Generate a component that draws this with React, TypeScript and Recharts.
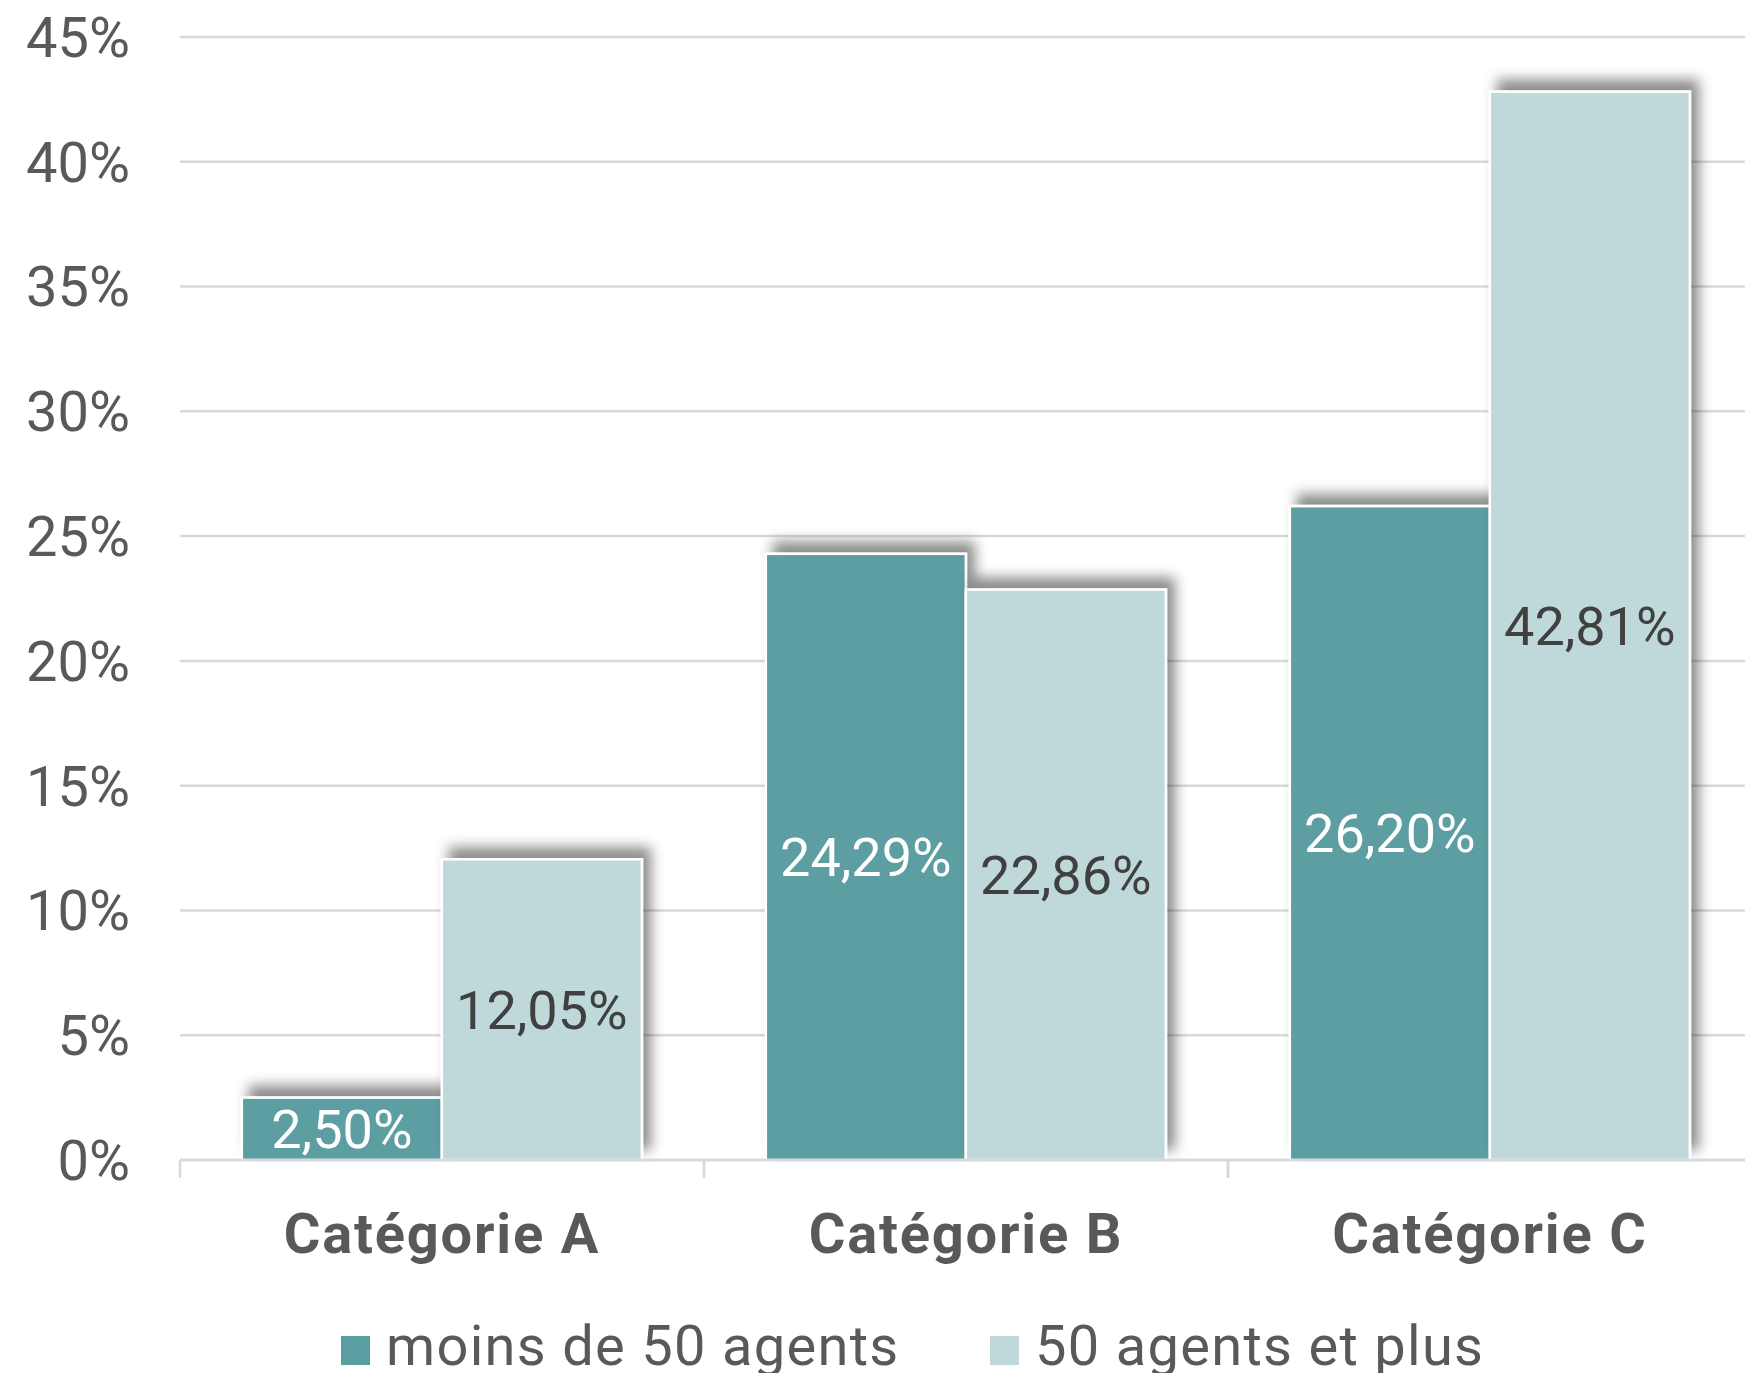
import React from 'react';
import { BarChart, Bar, XAxis, YAxis, CartesianGrid, LabelList } from 'recharts';

const categories = ['Catégorie A', 'Catégorie B', 'Catégorie C'];
const moinsDe50 = [2.5, 24.29, 26.2];
const cinquanteEtPlus = [12.05, 22.86, 42.81];
const seriesNames = ['moins de 50 agents', '50 agents et plus'];
const seriesColors = ['#5B9EA1', '#BFD9DA'];
const labelColors = ['#FFFFFF', '#404040'];
const yTicks = [0, 5, 10, 15, 20, 25, 30, 35, 40, 45];

const data = categories.map((c, i) => ({ cat: c, a: moinsDe50[i], b: cinquanteEtPlus[i] }));

const FONT = 'Roboto, "Noto Sans", sans-serif';
const CHART_W = 1760;
const CHART_H = 1373;
const MARGIN = { top: 37, right: 8, left: 0, bottom: 0 };
const Y_W = 180;
const X_H = 213;
const BAND = (CHART_W - Y_W - MARGIN.right) / categories.length;

const fmt = (v: number) => v.toFixed(2).replace('.', ',') + '%';

const ShadowBar = (props: any) => {
  const { x, y, width, height, fill } = props;
  if (height == null || height <= 0) return null;
  return (
    <rect x={x} y={y} width={width} height={height} fill={fill} stroke="#FFFFFF" strokeWidth={2.5} filter="url(#barShadow)" />
  );
};

const XTick = (props: any) => {
  const { x, y, payload } = props;
  return (
    <g>
      <line x1={x - BAND / 2} y1={y} x2={x - BAND / 2} y2={y + 18} stroke="#D9D9D9" strokeWidth={2.5} />
      <line x1={x + BAND / 2} y1={y} x2={x + BAND / 2} y2={y + 18} stroke="#D9D9D9" strokeWidth={2.5} />
      <text x={x} y={y + 93} textAnchor="middle" fontFamily={FONT} fontWeight={700} fontSize={56} letterSpacing={1.8} fill="#595959">
        {payload.value}
      </text>
    </g>
  );
};

const legendPos = [
  { sq: 341, tx: 386 },
  { sq: 990, tx: 1035 },
];

export default function App() {
  return (
    <div style={{ position: 'absolute', left: 0, top: 0, width: 1745, height: 1373, overflow: 'hidden', background: '#fff' }}>
      <svg width={0} height={0} style={{ position: 'absolute' }}>
        <defs>
          <filter id="barShadow" filterUnits="userSpaceOnUse" x={0} y={0} width={CHART_W} height={CHART_H}>
            <feDropShadow dx={8} dy={-11} stdDeviation={6.5} floodColor="#000000" floodOpacity={0.45} />
          </filter>
        </defs>
      </svg>
      <BarChart width={CHART_W} height={CHART_H} data={data} margin={MARGIN} barCategoryGap="11.8%" barGap={0}>
        <CartesianGrid vertical={false} stroke="#D9D9D9" strokeWidth={2.5} />
        <XAxis dataKey="cat" height={X_H} tickLine={false} tickSize={0} tickMargin={0} axisLine={{ stroke: '#D9D9D9', strokeWidth: 2.5 }} tick={<XTick />} interval={0} />
        <YAxis
          width={Y_W}
          domain={[0, 45]}
          ticks={yTicks}
          interval={0}
          axisLine={false}
          tickLine={false}
          tickSize={0}
          tickMargin={50}
          tickFormatter={(v: number) => `${v}%`}
          tick={{ fontSize: 56, fill: '#595959', fontFamily: FONT }}
        />
        <Bar dataKey="a" name={seriesNames[0]} fill={seriesColors[0]} shape={<ShadowBar />} isAnimationActive={false}>
          <LabelList dataKey="a" position="center" formatter={(v: any) => fmt(Number(v))} fill={labelColors[0]} fontSize={54} fontFamily={FONT} />
        </Bar>
        <Bar dataKey="b" name={seriesNames[1]} fill={seriesColors[1]} shape={<ShadowBar />} isAnimationActive={false}>
          <LabelList dataKey="b" position="center" formatter={(v: any) => fmt(Number(v))} fill={labelColors[1]} fontSize={54} fontFamily={FONT} />
        </Bar>
      </BarChart>
      {seriesNames.map((n, i) => (
        <React.Fragment key={n}>
          <div style={{ position: 'absolute', left: legendPos[i].sq, top: 1336, width: 29, height: 29, background: seriesColors[i] }} />
          <div style={{ position: 'absolute', left: legendPos[i].tx, top: 1313, fontFamily: FONT, fontSize: 56, letterSpacing: '1.3px', color: '#595959', lineHeight: '66px', whiteSpace: 'nowrap' }}>
            {n}
          </div>
        </React.Fragment>
      ))}
    </div>
  );
}
